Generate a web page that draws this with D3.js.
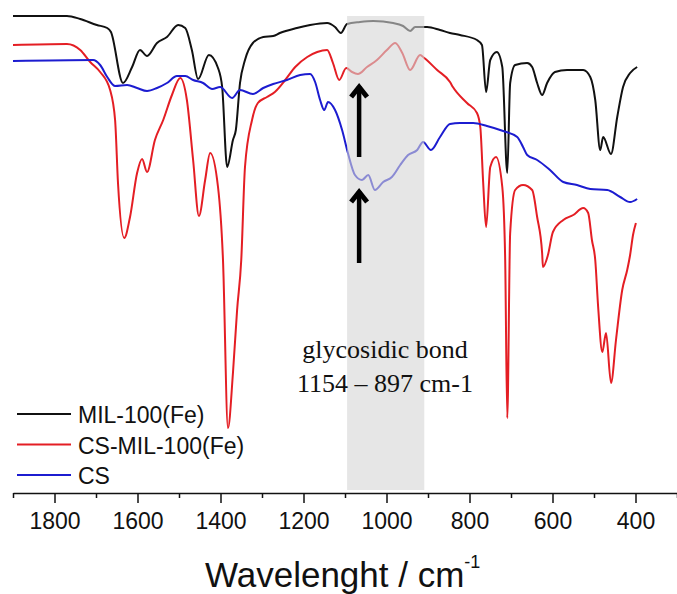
<!DOCTYPE html>
<html lang="en">
<head>
	<meta charset="utf-8">
	<title>FTIR spectra</title>
	<script src="https://d3js.org/d3.v7.min.js"></script>
	<style>
		body { margin: 0; background: #fff; }
		svg { display: block; }
	</style>
</head>
<body>
	<div id="chart"></div>
	<script>
		// Data: wavenumber (cm-1) and transmittance (a.u.)
		const milWave = [1900, 1770, 1738, 1698, 1673, 1664, 1635, 1613, 1594, 1577, 1553, 1529, 1502, 1485, 1469, 1454, 1428, 1406, 1396, 1384, 1370, 1363, 1353, 1341, 1322, 1297, 1273, 1257, 1216, 1184, 1143, 1124, 1110, 1095, 1064, 1032, 984, 960, 943, 931, 902, 871, 847, 823, 782, 770, 760, 750, 734, 721, 709, 702, 690, 661, 649, 637, 625, 613, 594, 565, 526, 509, 497, 485, 478, 459, 444, 430, 413, 396];
		const milT = [95.2, 95.2, 94.6, 93.4, 92.8, 92, 81.8, 85, 88.4, 87.2, 89.8, 91, 93.4, 92.8, 88.4, 82.6, 87.4, 84.8, 81, 65, 70.4, 72.4, 81.8, 86.4, 89.8, 91, 91.2, 91.8, 92.8, 93.4, 93.8, 93, 91.8, 93.6, 94, 94.2, 93.8, 93.2, 92.2, 93, 93, 92.4, 91.8, 91.4, 90.4, 89.4, 80, 86.4, 88, 85, 63.8, 81.8, 85.4, 85.8, 85, 81.8, 79.4, 81.8, 84, 84.4, 84.4, 83, 78.4, 68.4, 71, 67.6, 75, 81, 83.8, 85];

		const csMilWave = [1900, 1770, 1738, 1714, 1690, 1666, 1654, 1647, 1632, 1618, 1601, 1589, 1577, 1558, 1538, 1517, 1497, 1481, 1466, 1452, 1437, 1425, 1406, 1394, 1382, 1370, 1360, 1350, 1341, 1324, 1310, 1288, 1269, 1244, 1220, 1191, 1167, 1143, 1129, 1114, 1097, 1083, 1069, 1047, 1023, 999, 979, 962, 943, 919, 909, 878, 847, 840, 806, 782, 774, 767, 760, 750, 736, 721, 714, 709, 702, 690, 671, 649, 637, 625, 623, 611, 599, 574, 550, 526, 514, 505, 497, 490, 480, 471, 459, 447, 432, 420, 413, 406, 399];
		const csMilT = [89.4, 89.6, 88.4, 86, 84, 80.4, 74.4, 61.8, 50.8, 55, 63.8, 66.6, 64, 70.4, 74.4, 79.4, 82.8, 78.4, 66.4, 55.2, 62.4, 67.8, 61, 46.4, 12.8, 23.8, 36.4, 46.4, 65, 74.4, 77.8, 79, 80, 82.4, 85, 87, 88, 88.4, 85.8, 82.4, 84.8, 84, 83.6, 85, 86.4, 88.4, 89.8, 87.8, 84.4, 87.4, 86.8, 84.4, 82, 81, 77.8, 75.8, 73, 61.8, 53, 65, 67, 61, 46.4, 14.8, 51.8, 60.4, 61.4, 60.4, 55, 47.8, 45, 47.4, 52, 54.4, 55.4, 56.8, 55.8, 50.4, 46.4, 37, 28, 31.8, 21.8, 30.4, 40.4, 44.4, 47.4, 51.4, 53.8];

		const csWave = [1900, 1707, 1690, 1673, 1654, 1625, 1601, 1577, 1553, 1529, 1505, 1485, 1466, 1442, 1420, 1401, 1372, 1353, 1322, 1297, 1273, 1240, 1208, 1184, 1172, 1160, 1150, 1141, 1124, 1107, 1093, 1076, 1059, 1044, 1028, 1008, 987, 967, 948, 926, 912, 893, 871, 847, 823, 791, 758, 719, 685, 671, 661, 637, 606, 574, 541, 509, 468, 437, 413, 396];
		const csT = [86.2, 86.4, 85.4, 83, 81.2, 81.4, 80.8, 80.2, 80.8, 81.8, 83.2, 83.2, 82.4, 81.8, 80.6, 81, 78.8, 80.4, 79.6, 80.8, 81.6, 82.4, 83.4, 83.6, 82, 78.4, 76.4, 78, 76.4, 72.4, 67.8, 63.4, 62.4, 63.4, 60.4, 62, 63, 65.4, 67.4, 68.4, 70, 68.4, 71, 73.6, 73.8, 73.8, 73.2, 72.2, 71, 69, 67.4, 66.4, 64.4, 62, 61.4, 60.6, 60.4, 59, 58, 58.6];

		const seriesNames = ["MIL-100(Fe)", "CS-MIL-100(Fe)", "CS"];
		const seriesColors = ["#111111", "#e41e24", "#1c1cd0"];
		const majorTicks = [1800, 1600, 1400, 1200, 1000, 800, 600, 400];
		const minorTicks = [1900, 1700, 1500, 1300, 1100, 900, 700, 500, 300];
		const bandRange = [1095, 909];
		const arrowWave = 1066;
		const arrowT = [[81.8, 67], [60.8, 45.8]];

		const width = 677;
		const height = 594;

		const svg = d3.select("#chart")
			.append("svg")
			.attr("width", width)
			.attr("height", height);

		const x = d3.scaleLinear().domain([1900, 300]).range([13, 677]);
		const y = d3.scaleLinear().domain([0, 96]).range([492, 12]);
		const axisY = 493;

		const series = [
			{ name: seriesNames[0], color: seriesColors[0], pts: milWave.map((w, i) => [w, milT[i]]) },
			{ name: seriesNames[1], color: seriesColors[1], pts: csMilWave.map((w, i) => [w, csMilT[i]]) },
			{ name: seriesNames[2], color: seriesColors[2], pts: csWave.map((w, i) => [w, csT[i]]) }
		];

		const line = d3.line()
			.x(d => x(d[0]))
			.y(d => y(d[1]))
			.curve(d3.curveMonotoneX);

		// spectra
		svg.selectAll(".spectrum")
			.data(series)
			.join("path")
			.attr("class", "spectrum")
			.attr("d", d => line(d.pts))
			.attr("fill", "none")
			.attr("stroke", d => d.color)
			.attr("stroke-width", 2)
			.attr("stroke-linejoin", "round");

		// grey band on top of the lines
		svg.append("rect")
			.attr("x", x(bandRange[0]))
			.attr("width", x(bandRange[1]) - x(bandRange[0]))
			.attr("y", y(95.2))
			.attr("height", axisY - 3 - y(95.2))
			.attr("fill", "#d5d5d5")
			.attr("fill-opacity", 0.6);

		// arrows
		const arrows = svg.selectAll(".arrow")
			.data(arrowT)
			.join("g")
			.attr("class", "arrow");
		arrows.append("line")
			.attr("x1", x(arrowWave))
			.attr("x2", x(arrowWave))
			.attr("y1", d => y(d[0]) + 3)
			.attr("y2", d => y(d[1]))
			.attr("stroke", "#000")
			.attr("stroke-width", 4.5);
		arrows.append("path")
			.attr("d", d => {
				const ax = x(arrowWave), ay = y(d[0]) + 2;
				return `M${ax - 8},${ay + 12} L${ax},${ay + 2} L${ax + 8},${ay + 12}`;
			})
			.attr("fill", "none")
			.attr("stroke", "#000")
			.attr("stroke-width", 5)
			.attr("stroke-linejoin", "miter");

		// annotation
		const note = svg.append("text")
			.attr("text-anchor", "middle")
			.style("font-family", "'Liberation Serif', 'Times New Roman', serif")
			.style("font-size", "26px")
			.attr("fill", "#111");
		note.append("tspan").attr("x", 385).attr("y", 358).text("glycosidic bond");
		note.append("tspan").attr("x", 385).attr("y", 392).text("1154 – 897 cm-1");

		// legend
		const legend = svg.selectAll(".legend")
			.data(series)
			.join("g")
			.attr("class", "legend")
			.attr("transform", (d, i) => `translate(17,${414 + i * 30.5})`);
		legend.append("line")
			.attr("x1", 0).attr("x2", 54)
			.attr("stroke", d => d.color)
			.attr("stroke-width", 2);
		legend.append("text")
			.attr("x", 61)
			.attr("y", 9)
			.text(d => d.name)
			.style("font-family", "'Liberation Sans', Arial, sans-serif")
			.style("font-size", "23px")
			.attr("fill", "#111");

		// x axis
		const gMinor = svg.append("g")
			.attr("transform", `translate(0,${axisY})`)
			.call(d3.axisBottom(x).tickValues(minorTicks).tickSize(5).tickSizeOuter(0).tickFormat(""));
		gMinor.select(".domain").remove();
		gMinor.selectAll("line").attr("stroke", "#111").attr("stroke-width", 1.5);

		const gMajor = svg.append("g")
			.attr("transform", `translate(0,${axisY})`)
			.call(d3.axisBottom(x).tickValues(majorTicks).tickSize(10).tickSizeOuter(0).tickPadding(10).tickFormat(d3.format("d")));
		gMajor.select(".domain").attr("stroke", "#111").attr("stroke-width", 1.5);
		gMajor.selectAll("line").attr("stroke", "#111").attr("stroke-width", 1.5);
		gMajor.selectAll("text")
			.style("font-family", "'Liberation Sans', Arial, sans-serif")
			.style("font-size", "23px")
			.attr("fill", "#111");

		const title = svg.append("text")
			.attr("x", 205)
			.attr("y", 587)
			.style("font-family", "'Liberation Sans', Arial, sans-serif")
			.style("font-size", "35px")
			.attr("fill", "#111");
		title.append("tspan").text("Wavelenght / cm");
		title.append("tspan")
			.attr("dy", -19)
			.style("font-size", "18px")
			.text("-1");
	</script>
</body>
</html>
